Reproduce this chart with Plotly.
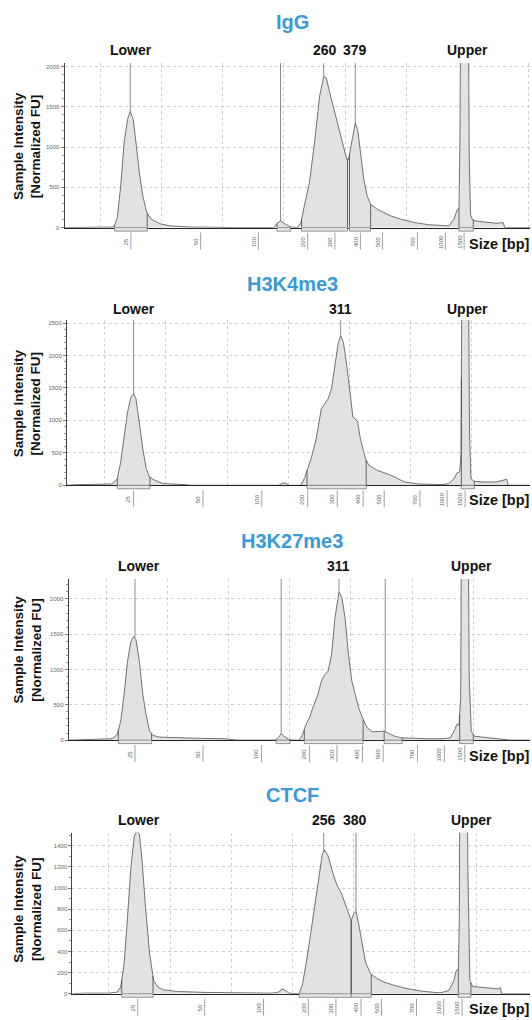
import numpy as np
import plotly.graph_objects as go

# ---------------- DATA (x = migration position units, y = Normalized FU) ----------------
sample_names = ["IgG", "H3K4me3", "H3K27me3", "CTCF"]
ladder_labels = ["25", "50", "100", "200", "300", "400", "500", "700", "1000", "1500"]

igg_x = [190, 290, 300, 335, 345, 355, 365, 375, 383, 392, 400, 410, 420, 432, 445, 470, 500, 560, 700,
         805, 815, 825, 840, 855, 875, 885, 895, 910, 925, 940, 952, 960, 970, 985, 1000, 1010, 1020, 1025,
         1035, 1045, 1052, 1060, 1070, 1080, 1090, 1110, 1130, 1150, 1180, 1220, 1260, 1300, 1320, 1335,
         1345, 1350, 1353, 1356, 1366, 1376, 1380, 1384, 1390, 1400, 1420, 1440, 1460, 1480, 1485, 1560]
igg_y = [0, 8, 4, 8, 124, 515, 1052, 1340, 1443, 1340, 1052, 680, 392, 186, 103, 49, 21, 8, 0,
         0, 54, 82, 41, 8, 0, 62, 268, 557, 1052, 1629, 1876, 1856, 1670, 1423, 1175, 1010, 845, 845,
         1093, 1299, 1217, 928, 598, 392, 289, 227, 186, 144, 103, 62, 37, 21, 21, 103,
         227, 235, 1200, 4000, 8000, 4000, 900, 160, 95, 82, 70, 62, 54, 62, 0, 0]
igg_ladder = [385, 590, 760, 905, 985, 1060, 1125, 1228, 1310, 1365]
igg_peak_lines = [383, 825, 952, 1045, 1360, 1372]
igg_regions = [(337, 433), (815, 855), (887, 1022), (1028, 1090), (1350, 1392)]
igg_labels = ["Lower", "260", "379", "Upper"]
igg_label_x = [385, 955, 1045, 1375]

h3k4_x = [197, 230, 330, 345, 355, 365, 375, 385, 393, 400, 410, 420, 430, 440, 455, 480, 545, 560,
          820, 830, 840, 850, 885, 895, 905, 915, 930, 945, 955, 965, 975, 985, 995, 1002, 1010, 1020,
          1030, 1038, 1045, 1052, 1060, 1075, 1085, 1110, 1150, 1190, 1230, 1300, 1320, 1335, 1345,
          1352, 1356, 1359, 1368, 1377, 1381, 1385, 1395, 1420, 1460, 1485, 1490, 1495, 1560]
h3k4_y = [0, 10, 20, 102, 359, 717, 1127, 1358, 1409, 1332, 922, 563, 256, 128, 77, 26, 10, 0,
          0, 31, 36, 0, 0, 102, 256, 410, 717, 1178, 1255, 1332, 1486, 1844, 2203, 2305, 2203, 1844,
          1383, 1050, 1025, 973, 717, 410, 307, 230, 154, 51, 20, 10, 26, 102, 195,
          205, 500, 4000, 8000, 4000, 800, 102, 61, 51, 51, 77, 92, 0, 0]
h3k4_ladder = [393, 597, 770, 905, 992, 1068, 1130, 1235, 1315, 1368]
h3k4_peak_lines = [393, 1002, 1362, 1372]
h3k4_regions = [(345, 441), (903, 1077), (1357, 1395)]
h3k4_labels = ["Lower", "311", "Upper"]
h3k4_label_x = [395, 1002, 1375]

h3k27_x = [202, 310, 330, 345, 355, 365, 375, 385, 393, 400, 410, 420, 430, 440, 450, 470, 520, 600,
           660, 680, 700, 810, 820, 827, 835, 850, 860, 880, 890, 900, 910, 920, 935, 945, 955, 965,
           975, 985, 997, 1005, 1015, 1025, 1035, 1045, 1055, 1068, 1080, 1095, 1110, 1130, 1140,
           1160, 1180, 1210, 1260, 1300, 1325, 1335, 1345, 1350, 1355, 1358, 1367, 1376, 1380, 1386,
           1395, 1420, 1440, 1465, 1480, 1500, 1560]
h3k27_y = [0, 9, 19, 80, 268, 645, 1115, 1398, 1468, 1421, 1115, 645, 353, 127, 66, 42, 33, 24,
           19, 9, 0, 0, 42, 94, 56, 9, 0, 0, 80, 221, 315, 456, 645, 833, 927, 974,
           1209, 1727, 2094, 2033, 1727, 1209, 833, 645, 456, 292, 174, 118, 118, 127, 104,
           56, 33, 24, 19, 19, 33, 127, 231, 212, 600, 4000, 8000, 4000, 900, 127,
           56, 42, 33, 19, 9, 0, 0]
h3k27_ladder = [397, 597, 769, 910, 991, 1066, 1127, 1228, 1307, 1367]
h3k27_peak_lines = [397, 827, 997, 1133, 1362, 1372]
h3k27_regions = [(348, 446), (812, 853), (895, 1068), (1130, 1183), (1352, 1392)]
h3k27_labels = ["Lower", "311", "Upper"]
h3k27_label_x = [408, 997, 1387]

ctcf_x = [213, 250, 320, 345, 355, 365, 375, 385, 395, 403, 410, 418, 428, 440, 452, 465, 480, 520,
          600, 700, 800, 820, 830, 840, 850, 880, 890, 905, 920, 935, 948, 955, 965, 980, 990, 1005,
          1015, 1025, 1033, 1040, 1047, 1055, 1065, 1075, 1090, 1110, 1130, 1160, 1200, 1240, 1290,
          1300, 1320, 1335, 1342, 1348, 1351, 1354, 1362, 1371, 1376, 1382, 1390, 1410, 1430, 1450,
          1465, 1472, 1475, 1560]
ctcf_y = [0, 6, 6, 16, 63, 283, 724, 1195, 1494, 1541, 1510, 1258, 818, 378, 126, 63, 38, 22,
          13, 9, 6, 16, 47, 31, 6, 0, 94, 378, 692, 1007, 1321, 1359, 1306, 1133, 1038, 944,
          849, 755, 692, 755, 780, 661, 472, 299, 189, 142, 110, 79, 47, 25, 9,
          13, 31, 126, 220, 236, 700, 4000, 8000, 4000, 1200, 126, 69, 63, 57, 50,
          47, 57, 0, 0]
ctcf_ladder = [405, 602, 775, 907, 988, 1062, 1122, 1225, 1305, 1359]
ctcf_peak_lines = [405, 952, 1047, 1355, 1370]
ctcf_regions = [(358, 450), (880, 1033), (1033, 1092), (1348, 1385)]
ctcf_labels = ["Lower", "256", "380", "Upper"]
ctcf_label_x = [408, 952, 1045, 1387]

# ---------------- LAYOUT / STYLE ----------------
W, H = 532, 1020
UNITS_PER_W = 1564.7   # migration units spanning the full figure width
X_RIGHT = 1560

panels = [
    dict(name=sample_names[0], x=igg_x, y=igg_y, ladder=igg_ladder, lines=igg_peak_lines,
         regions=igg_regions, labels=igg_labels, label_x=igg_label_x,
         left=190, bottom_px=228.3, top_px=63.3, ytop=2041, ydt=500, grid0=295,
         title_px=22, label_px=50, size_px=245, ytitle_px=147),
    dict(name=sample_names[1], x=h3k4_x, y=h3k4_y, ladder=h3k4_ladder, lines=h3k4_peak_lines,
         regions=h3k4_regions, labels=h3k4_labels, label_x=h3k4_label_x,
         left=197, bottom_px=486.7, top_px=321, ytop=2546, ydt=500, grid0=308,
         title_px=285, label_px=310, size_px=501, ytitle_px=405),
    dict(name=sample_names[2], x=h3k27_x, y=h3k27_y, ladder=h3k27_ladder, lines=h3k27_peak_lines,
         regions=h3k27_regions, labels=h3k27_labels, label_x=h3k27_label_x,
         left=202, bottom_px=742.3, top_px=580.7, ytop=2282, ydt=500, grid0=312,
         title_px=543, label_px=568, size_px=758, ytitle_px=652),
    dict(name=sample_names[3], x=ctcf_x, y=ctcf_y, ladder=ctcf_ladder, lines=ctcf_peak_lines,
         regions=ctcf_regions, labels=ctcf_labels, label_x=ctcf_label_x,
         left=213, bottom_px=996.7, top_px=835, ytop=1526, ydt=200, grid0=320,
         title_px=797, label_px=822, size_px=1012, ytitle_px=912),
]

FONT = "Liberation Sans, Arial, sans-serif"
TITLE_BLUE = "#3a9ad6"

fig = go.Figure()
shapes, annotations = [], []
layout = dict(width=W, height=H, margin=dict(l=0, r=0, t=0, b=0),
              paper_bgcolor="white", plot_bgcolor="white", showlegend=False,
              font=dict(family=FONT))


def py(px):
    return 1 - px / H


for i, p in enumerate(panels):
    sfx = "" if i == 0 else str(i + 1)
    xa, ya = "x" + sfx, "y" + sfx
    xs = np.array(p["x"], float)
    ys = np.array(p["y"], float)

    fig.add_trace(go.Scatter(x=xs, y=ys, mode="lines", fill="tozeroy",
                             fillcolor="#e2e2e2", line=dict(color="#505050", width=0.8),
                             xaxis=xa, yaxis=ya, hoverinfo="skip", showlegend=False))

    yb, yt = py(p["bottom_px"]), py(p["top_px"])
    layout["xaxis" + sfx] = dict(
        domain=[p["left"] / UNITS_PER_W, X_RIGHT / UNITS_PER_W], range=[p["left"], X_RIGHT],
        anchor=ya, showline=True, linecolor="#222222", linewidth=1.2, ticks="",
        showticklabels=False, showgrid=True, gridcolor="#d0d0d0", griddash="dot",
        gridwidth=0.8, tick0=p["grid0"], dtick=180, zeroline=False, fixedrange=True)
    layout["yaxis" + sfx] = dict(
        domain=[yb, yt], range=[0, p["ytop"]], anchor=xa, showline=True,
        linecolor="#444444", linewidth=1, ticks="outside", ticklen=3, tickcolor="#777777",
        tickfont=dict(size=6, color="#666666"), dtick=p["ydt"], tickformat="d",
        showgrid=True, gridcolor="#d0d0d0", griddash="dot", gridwidth=0.8, zeroline=False,
        minor=dict(dtick=100, ticks="outside", ticklen=2, tickcolor="#999999", showgrid=False),
        fixedrange=True)

    # marker lines from top down to the trace
    for xp in p["lines"]:
        yv = float(np.interp(xp, xs, ys))
        shapes.append(dict(type="line", xref=xa, yref=ya, x0=xp, x1=xp,
                           y0=min(yv, p["ytop"]), y1=p["ytop"],
                           line=dict(color="#6f6f6f", width=0.8)))
    # region boundaries and boxes under the baseline
    for a, b in p["regions"]:
        for xe in (a, b):
            yv = float(np.interp(xe, xs, ys))
            shapes.append(dict(type="line", xref=xa, yref=ya, x0=xe, x1=xe, y0=0,
                               y1=min(yv, p["ytop"]), line=dict(color="#444444", width=0.8)))
        shapes.append(dict(type="rect", xref=xa, yref="paper", x0=a, x1=b,
                           y0=yb - 3.5 / H, y1=yb, fillcolor="#e8e8e8",
                           line=dict(color="#777777", width=0.8)))
    # ladder ticks and labels
    for xv, lab in zip(p["ladder"], ladder_labels):
        shapes.append(dict(type="line", xref=xa, yref="paper", x0=xv, x1=xv,
                           y0=yb - 5 / H, y1=yb - 22 / H, line=dict(color="#8a8a8a", width=0.8)))
        annotations.append(dict(x=xv, xref=xa, y=yb - 14 / H, yref="paper", text=lab,
                                textangle=-90, showarrow=False, xshift=-5,
                                xanchor="center", yanchor="middle",
                                font=dict(size=6, color="#666666")))
    # peak labels
    for lab, xv in zip(p["labels"], p["label_x"]):
        annotations.append(dict(x=xv, xref=xa, y=py(p["label_px"]), yref="paper",
                                text="<b>%s</b>" % lab, showarrow=False,
                                xanchor="center", yanchor="middle",
                                font=dict(size=14, color="#111111")))
    # panel title
    annotations.append(dict(x=292 / W, xref="paper", y=py(p["title_px"]), yref="paper",
                            text="<b>%s</b>" % p["name"], showarrow=False,
                            xanchor="center", yanchor="middle",
                            font=dict(size=20, color=TITLE_BLUE)))
    # x-axis caption
    annotations.append(dict(x=1.0, xref="paper", xanchor="right", yanchor="middle",
                            y=py(p["size_px"]), yref="paper", text="<b>Size [bp]</b>",
                            showarrow=False, font=dict(size=14.5, color="#111111")))
    # y-axis caption
    annotations.append(dict(x=27.5 / W, xref="paper", y=py(p["ytitle_px"]), yref="paper",
                            text="<b>Sample Intensity<br>[Normalized FU]</b>", textangle=-90,
                            showarrow=False, align="center", xanchor="center",
                            yanchor="middle", font=dict(size=13.5, color="#111111")))

layout["shapes"] = shapes
layout["annotations"] = annotations
fig.update_layout(**layout)
fig.write_html("out.html", config={"displayModeBar": False},
               post_script="document.body.style.margin='0';")
